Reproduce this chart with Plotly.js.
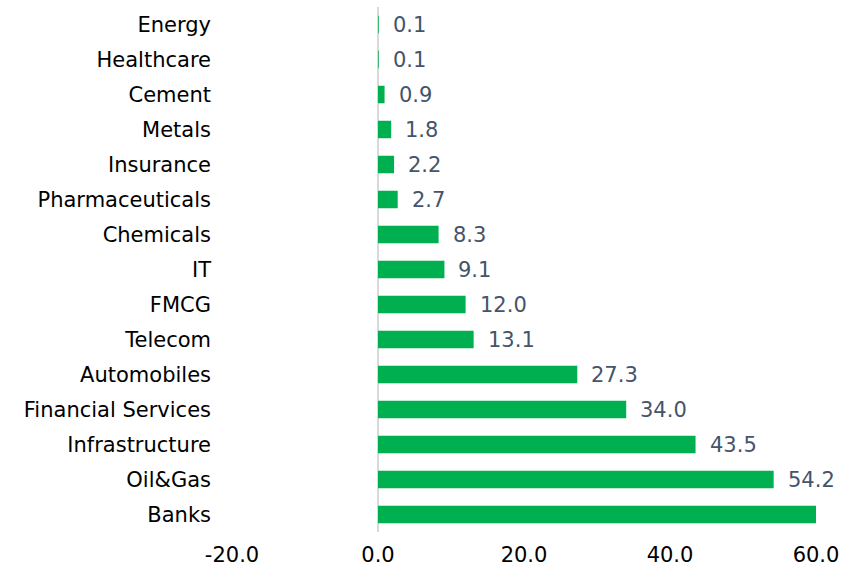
<!DOCTYPE html>
<html>
<head>
<meta charset="utf-8">
<script src="https://cdn.plot.ly/plotly-3.0.1.min.js"></script>
<style>html,body{margin:0;padding:0;background:#fff;}#chart{width:852px;height:580px;}</style>
</head>
<body>
<div id="chart"></div>
<script>
const sectors = ["Energy","Healthcare","Cement","Metals","Insurance","Pharmaceuticals","Chemicals","IT","FMCG","Telecom","Automobiles","Financial Services","Infrastructure","Oil&Gas","Banks"];
const values = [0.1,0.1,0.9,1.8,2.2,2.7,8.3,9.1,12.0,13.1,27.3,34.0,43.5,54.2,60.3];
const tickVals = [-20,0,20,40,60];
const tickText = ["-20.0","0.0","20.0","40.0","60.0"];

const FONT = "DejaVu Sans, sans-serif";
const annotations = sectors.map((s,i)=>({
  x: values[i], y: s, xref:'x', yref:'y', text: values[i].toFixed(1),
  showarrow:false, xanchor:'left', yanchor:'middle', xshift:12,
  font:{family:FONT,size:21,color:'#44546A'}
})).filter(a=>a.x<=60);

Plotly.newPlot('chart',[{
  type:'bar', orientation:'h', x:values, y:sectors,
  marker:{color:'#00B050'}, cliponaxis:true, hoverinfo:'none'
}],{
  width:852,height:580,
  margin:{l:232,r:36,t:7,b:48},
  paper_bgcolor:'#fff',plot_bgcolor:'#fff',
  bargap:0.5, showlegend:false,
  font:{family:FONT,size:21,color:'#000'},
  xaxis:{range:[-20,60],tickvals:tickVals,ticktext:tickText,showgrid:false,
    zeroline:true,zerolinecolor:'#D9D9D9',zerolinewidth:1.5,showline:false,ticks:'',
    ticklabelstandoff:8,
    tickfont:{family:FONT,size:21,color:'#000'}},
  yaxis:{autorange:'reversed',showgrid:false,zeroline:false,showline:false,ticks:'',
    ticklabelstandoff:20,tickfont:{family:FONT,size:21,color:'#000'}},
  annotations:annotations
},{staticPlot:true});
</script>
</body>
</html>
